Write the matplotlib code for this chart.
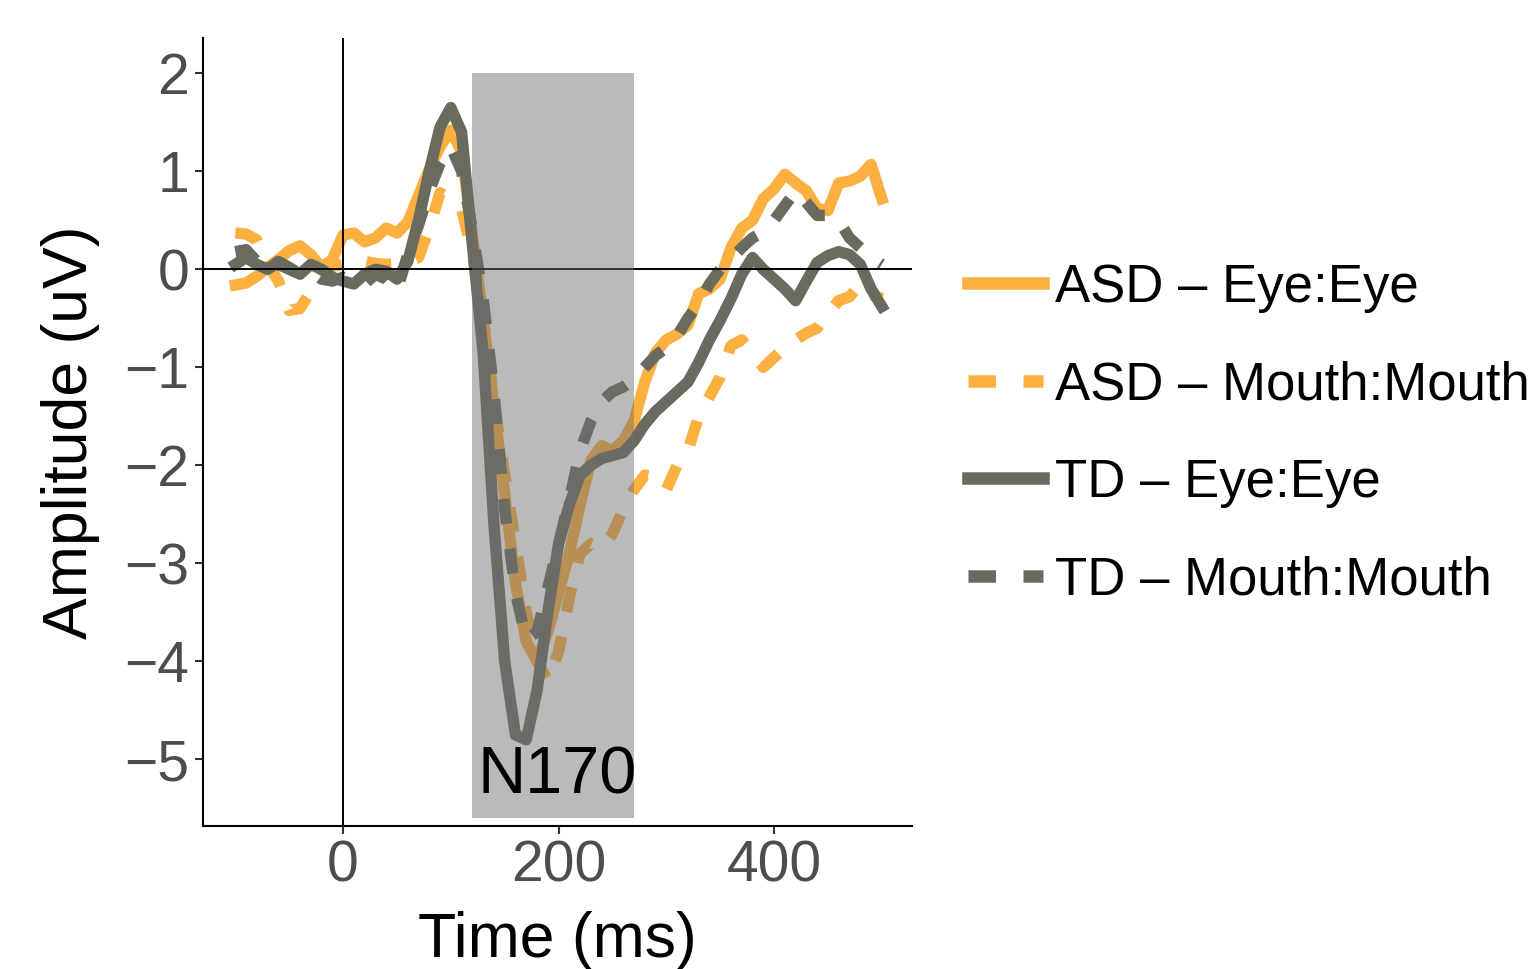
import matplotlib
matplotlib.use("Agg")
import matplotlib.pyplot as plt

plt.rcParams['font.family'] = ['Liberation Sans', 'DejaVu Sans']

# time axis (ms), one sample every 10 ms
time_ms = list(range(-100, 501, 10))

asd_eye = [-0.16, -0.14, -0.07, 0.02, 0.10, 0.19, 0.24, 0.15, 0.02, 0.10,
           0.35, 0.37, 0.28, 0.32, 0.42, 0.37, 0.48, 0.75, 1.02, 1.25,
           1.42, 1.20, 0.35, -0.50, -1.40, -2.30, -3.20, -3.80, -4.00, -3.70,
           -3.30, -2.90, -2.40, -1.95, -1.80, -1.85, -1.75, -1.55, -1.15, -0.85,
           -0.72, -0.66, -0.57, -0.25, -0.20, -0.10, 0.22, 0.42, 0.50, 0.72,
           0.82, 0.97, 0.88, 0.80, 0.62, 0.60, 0.88, 0.90, 0.95, 1.07,
           0.72]

asd_mouth = [0.37, 0.36, 0.30, 0.05, -0.12, -0.42, -0.40, -0.22, -0.05, 0.03,
             0.05, 0.06, 0.08, 0.06, 0.05, 0.06, 0.08, 0.12, 0.42, 0.78,
             0.72, 0.62, 0.15, -0.50, -1.35, -2.10, -2.80, -3.50, -4.00, -4.20,
             -3.90, -3.35, -2.90, -2.80, -2.85, -2.70, -2.45, -2.25, -2.10, -2.12,
             -2.25, -2.00, -1.85, -1.50, -1.30, -1.10, -0.78, -0.72, -0.85, -1.00,
             -0.90, -0.80, -0.72, -0.65, -0.60, -0.45, -0.32, -0.28, -0.15, -0.25,
             -0.30]

td_eye = [0.05, 0.12, 0.05, 0.00, 0.08, 0.02, -0.05, 0.05, 0.00, -0.08,
          -0.12, -0.15, -0.05, 0.00, -0.02, -0.10, 0.08, 0.50, 1.00, 1.45,
          1.65, 1.40, 0.25, -0.85, -2.60, -4.00, -4.75, -4.80, -4.30, -3.50,
          -2.80, -2.40, -2.10, -2.00, -1.93, -1.90, -1.87, -1.75, -1.58, -1.45,
          -1.35, -1.25, -1.15, -0.95, -0.72, -0.52, -0.30, -0.05, 0.12, 0.00,
          -0.10, -0.20, -0.32, -0.12, 0.07, 0.14, 0.18, 0.15, 0.05, -0.20,
          -0.38]

td_mouth = [0.18, 0.20, 0.08, -0.02, 0.05, 0.00, -0.05, -0.02, -0.10, -0.12,
            -0.08, -0.12, -0.15, -0.05, -0.10, -0.22, 0.15, 0.45, 0.80, 1.08,
            1.25, 1.00, 0.40, -0.30, -1.25, -2.45, -3.30, -3.78, -3.70, -3.25,
            -2.80, -2.35, -1.85, -1.55, -1.35, -1.25, -1.20, -1.12, -1.00, -0.88,
            -0.80, -0.68, -0.50, -0.35, -0.15, 0.00, 0.10, 0.22, 0.32, 0.38,
            0.50, 0.65, 0.80, 0.68, 0.55, 0.55, 0.50, 0.32, 0.22, 0.12,
            0.05]

labels = ["ASD \u2013 Eye:Eye", "ASD \u2013 Mouth:Mouth",
          "TD \u2013 Eye:Eye", "TD \u2013 Mouth:Mouth"]

orange = '#FBB040'
grey = '#6B6A5E'

fig = plt.figure(figsize=(15.38, 9.69), dpi=100)
ax = fig.add_axes([203/1538, 1 - 826/969, 709/1538, 788/969])

lw = 8.2
dash = (0, (2.2, 2.2))
ax.plot(time_ms, asd_eye, color=orange, lw=lw, label=labels[0], zorder=2)
ax.plot(time_ms, asd_mouth, color=orange, lw=lw, linestyle=dash, label=labels[1], zorder=2)
ax.plot(time_ms, td_eye, color=grey, lw=lw, label=labels[2], zorder=2)
ax.plot(time_ms, td_mouth, color=grey, lw=lw, linestyle=dash, label=labels[3], zorder=2)

ax.axhline(0, color='black', lw=1.4, zorder=3)
ax.axvline(0, color='black', lw=1.4, zorder=3)

# N170 window, drawn over the traces
ax.fill_between([120, 270], -5.6, 2, color='#6E6E6E', alpha=0.47, lw=0, zorder=4)
ax.text(199, -5.17, "N170", fontsize=48, ha='center', va='center', color='black', zorder=5)

ax.set_xlim(-130, 528)
ax.set_ylim(-5.68, 2.36)
ax.set_xticks([0, 200, 400])
ax.set_yticks([-5, -4, -3, -2, -1, 0, 1, 2])

for s in ['top', 'right']:
    ax.spines[s].set_visible(False)
for s in ['left', 'bottom']:
    ax.spines[s].set_linewidth(1.5)
    ax.spines[s].set_color('black')

ax.tick_params(axis='both', labelsize=41, labelcolor='#4D4D4D', color='#333333',
               width=1.5, length=6, pad=4)

ax.set_xlabel("Time (ms)", fontsize=45, labelpad=12)
ax.set_ylabel("Amplitude (uV)", fontsize=45, labelpad=17)

leg = fig.legend(loc='center left', bbox_to_anchor=(968/1538, 1 - 434/969),
                 frameon=False, fontsize=38, handlelength=1.42,
                 handletextpad=0.23, labelspacing=0.9, borderpad=0,
                 borderaxespad=0)
for h in leg.get_lines():
    h.set_linewidth(9)

fig.savefig("out.png", dpi=100)
